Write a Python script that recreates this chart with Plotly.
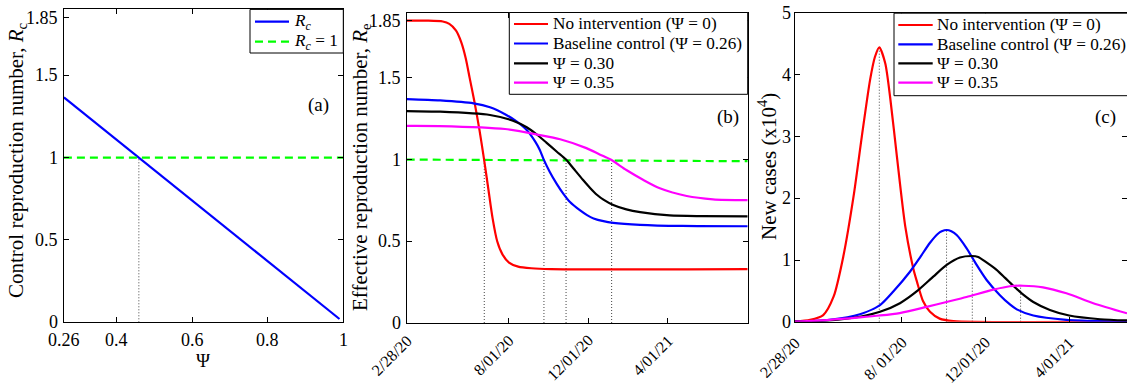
import pandas as pd
import plotly.graph_objects as go

# ---------------- data ----------------
START = pd.Timestamp("2020-02-28")

# panel (a)
psi_line = [0.26, 0.99]
rc_line = [1.366, 0.02]
psi_cross = 0.4585
a_xticks = [0.26, 0.4, 0.6, 0.8, 1.0]
a_xtext = ["0.26", "0.4", "0.6", "0.8", "1"]
r_ticks = [0, 0.5, 1, 1.5, 1.85]
r_text = ["0", "0.5", "1", "1.5", "1.85"]
c_yticks = [0, 1, 2, 3, 4, 5]
c_ytext = ["0", "1", "2", "3", "4", "5"]

# panel (b): effective reproduction number (days since 2/28/20)
b_red_d = [0, 30, 55, 65, 75, 83, 90, 96, 103, 111, 118, 124.5, 131, 138, 146, 156, 170, 190, 220, 520]
b_red_v = [1.85, 1.85, 1.845, 1.83, 1.79, 1.72, 1.62, 1.50, 1.36, 1.18, 1.0, 0.82, 0.64, 0.50, 0.42, 0.37, 0.345, 0.335, 0.33, 0.33]
b_blue_d = [0, 51, 102, 127, 152, 168, 183, 196, 203, 209, 218, 229, 239, 249, 264, 275, 285, 300, 315, 356, 420, 520]
b_blue_v = [1.37, 1.362, 1.344, 1.32, 1.273, 1.232, 1.181, 1.11, 1.059, 1.0, 0.926, 0.85, 0.79, 0.74, 0.69, 0.66, 0.64, 0.623, 0.613, 0.601, 0.594, 0.592]
b_black_d = [0, 51, 127, 162, 183, 198, 213, 229, 243, 254, 269, 280, 290, 300, 315, 335, 356, 401, 450, 520]
b_black_v = [1.297, 1.293, 1.273, 1.238, 1.198, 1.155, 1.104, 1.048, 1.0, 0.947, 0.875, 0.825, 0.785, 0.755, 0.722, 0.695, 0.678, 0.658, 0.654, 0.653]
b_mag_d = [0, 50, 150, 203, 234, 274, 295, 311, 335, 361, 386, 427, 467, 520]
b_mag_v = [1.206, 1.205, 1.187, 1.15, 1.124, 1.07, 1.03, 1.0, 0.936, 0.875, 0.824, 0.777, 0.757, 0.752]
b_thr_d = [0, 520]
b_thr_v = [1.0, 0.99]
b_cross_d = [118.3, 209.3, 243, 312.5]

# panel (c): new cases (x10^4)
c_red_d = [0, 22, 41, 56, 70, 85, 97, 109, 116, 122.4, 131, 138, 148, 160, 172, 177, 186, 196, 210, 230, 482]
c_red_v = [0.005, 0.03, 0.108, 0.405, 1.05, 2.03, 3.0, 3.92, 4.29, 4.447, 4.19, 3.65, 2.67, 1.55, 0.85, 0.65, 0.33, 0.16, 0.05, 0.01, 0.0]
c_blue_d = [0, 50, 94.3, 123.4, 142.7, 166.9, 181.4, 196, 208, 213, 220.2, 227, 234.7, 249.2, 263.7, 278.2, 297.5, 312, 322, 346, 394, 440, 482]
c_blue_v = [0.0, 0.03, 0.12, 0.27, 0.49, 0.81, 1.04, 1.28, 1.43, 1.465, 1.486, 1.465, 1.405, 1.19, 0.92, 0.676, 0.43, 0.28, 0.2, 0.1, 0.03, 0.01, 0.005]
c_black_d = [0, 50, 94.3, 123.4, 152.4, 176.6, 200.7, 220.2, 239.5, 256.4, 266, 278, 292.7, 305, 318, 330, 346, 370, 398, 443, 482]
c_black_v = [0.0, 0.02, 0.08, 0.16, 0.30, 0.49, 0.73, 0.92, 1.04, 1.065, 1.05, 0.96, 0.84, 0.71, 0.57, 0.45, 0.32, 0.19, 0.1, 0.04, 0.02]
c_mag_d = [0, 50, 94, 123, 152, 191, 220, 249, 288, 312, 331, 360, 394, 433, 482]
c_mag_v = [0.0, 0.03, 0.07, 0.1, 0.14, 0.24, 0.32, 0.40, 0.52, 0.575, 0.583, 0.557, 0.46, 0.30, 0.136]
c_peak_d = [122.4, 220, 257.4, 327.5]
c_peak_v = [4.447, 1.486, 1.065, 0.583]

date_ticks = ["2020-02-28", "2020-08-01", "2020-12-01", "2021-04-01"]
b_ticktext = ["2/28/20", "8/01/20", "12/01/20", "4/01/21"]
c_ticktext = ["2/28/20", "8/ 01/20", "12/01/20", "4/01/21"]

names = ["No intervention (Ψ = 0)", "Baseline control (Ψ = 0.26)", "Ψ = 0.30", "Ψ = 0.35"]
colors = ["#ff0000", "#0000ff", "#000000", "#ff00ff"]
a_names = ["<i>R<sub>c</sub></i>", "<i>R<sub>c</sub></i> = 1"]


def to_dates(days):
    return [START + pd.Timedelta(days=float(d)) for d in days]


W, H = 1127, 389
FONT = "Liberation Serif"
GREEN = "#00ff00"
DASH = "8px,5px"
SMOOTH = 0.7


def px(x):
    return x / W


def py(y):
    return 1 - y / H


def xd(a, b):
    return [px(a), px(b)]


def yd(top, bottom):
    return [py(bottom), py(top)]


fig = go.Figure()
DOT = dict(color="#444444", width=1, dash="1px,2px")

# ---- panel (a)
fig.add_trace(go.Scatter(x=[psi_cross, psi_cross], y=[0, 1], mode="lines",
                         line=DOT, showlegend=False, xaxis="x", yaxis="y"))
fig.add_trace(go.Scatter(x=psi_line, y=rc_line, mode="lines", line=dict(color="#0000ff", width=2.2),
                         name=a_names[0], showlegend=False, xaxis="x", yaxis="y"))
fig.add_trace(go.Scatter(x=[0.26, 1.0], y=[1.0, 1.0], mode="lines",
                         line=dict(color=GREEN, width=2.2, dash=DASH),
                         name=a_names[1], showlegend=False, xaxis="x", yaxis="y"))

# ---- panel (b)
for d in b_cross_d:
    fig.add_trace(go.Scatter(x=to_dates([d, d]), y=[0, 1], mode="lines",
                             line=DOT, showlegend=False, xaxis="x2", yaxis="y2"))
fig.add_trace(go.Scatter(x=to_dates(b_thr_d), y=b_thr_v, mode="lines",
                         line=dict(color=GREEN, width=2.2, dash=DASH), showlegend=False,
                         xaxis="x2", yaxis="y2"))
b_series = [(b_red_d, b_red_v), (b_blue_d, b_blue_v), (b_black_d, b_black_v), (b_mag_d, b_mag_v)]
for (d, v), n, c in zip(b_series, names, colors):
    fig.add_trace(go.Scatter(x=to_dates(d), y=v, mode="lines",
                             line=dict(color=c, width=2.2, shape="spline", smoothing=SMOOTH),
                             name=n, showlegend=False, xaxis="x2", yaxis="y2"))

# ---- panel (c)
for d, v in zip(c_peak_d, c_peak_v):
    fig.add_trace(go.Scatter(x=to_dates([d, d]), y=[0, v], mode="lines",
                             line=DOT, showlegend=False, xaxis="x3", yaxis="y3"))
c_series = [(c_red_d, c_red_v), (c_blue_d, c_blue_v), (c_black_d, c_black_v), (c_mag_d, c_mag_v)]
for (d, v), n, c in zip(c_series, names, colors):
    fig.add_trace(go.Scatter(x=to_dates(d), y=v, mode="lines",
                             line=dict(color=c, width=2.2, shape="spline", smoothing=SMOOTH),
                             name=n, showlegend=False, xaxis="x3", yaxis="y3"))

axis_common = dict(showline=True, linecolor="black", linewidth=1, mirror="ticks", ticks="inside",
                   ticklen=5, tickcolor="black", showgrid=False, zeroline=False, automargin=False,
                   showticklabels=False)

fig.update_layout(
    width=W, height=H, margin=dict(l=0, r=0, t=0, b=0, pad=0, autoexpand=False),
    paper_bgcolor="white", plot_bgcolor="white", showlegend=False,
    font=dict(family=FONT, color="black"),
    xaxis=dict(domain=xd(63.9, 343.3), anchor="y", range=[0.26, 1.0], tickvals=a_xticks, **axis_common),
    yaxis=dict(domain=yd(9.4, 322.3), anchor="x", range=[0, 1.9], tickvals=r_ticks, **axis_common),
    xaxis2=dict(domain=xd(406.7, 747.7), anchor="y2", type="date",
                range=[START, START + pd.Timedelta(days=520)], tickvals=date_ticks, **axis_common),
    yaxis2=dict(domain=yd(12.5, 323), anchor="x2", range=[0, 1.9], tickvals=r_ticks, **axis_common),
    xaxis3=dict(domain=xd(795, 1127), anchor="y3", type="date",
                range=[START, START + pd.Timedelta(days=482)], tickvals=date_ticks, **axis_common),
    yaxis3=dict(domain=yd(13.2, 321.7), anchor="x3", range=[0, 5], tickvals=c_yticks, **axis_common),
)

tick_font = dict(family=FONT, size=18, color="black")
date_font = dict(family=FONT, size=16, color="black")

# tick labels (serif), placed through the axes' own scales
for v, t in zip(r_ticks, r_text):
    fig.add_annotation(text=t, xref="paper", yref="y", x=px(60), y=v, xanchor="right", yanchor="middle",
                       showarrow=False, font=tick_font)
    fig.add_annotation(text=t, xref="paper", yref="y2", x=px(403), y=v, xanchor="right", yanchor="middle",
                       showarrow=False, font=tick_font)
for v, t in zip(c_yticks, c_ytext):
    fig.add_annotation(text=t, xref="paper", yref="y3", x=px(793), y=v, xanchor="right", yanchor="middle",
                       showarrow=False, font=tick_font)
for v, t in zip(a_xticks, a_xtext):
    fig.add_annotation(text=t, xref="x", yref="paper", x=v, y=py(340), xanchor="center", yanchor="middle",
                       showarrow=False, font=tick_font)
for v, t in zip(date_ticks, b_ticktext):
    fig.add_annotation(text=t, xref="x2", yref="paper", x=v, y=py(329), xanchor="right", yanchor="top",
                       xshift=11, textangle=-45, showarrow=False, font=date_font)
for v, t in zip(date_ticks, c_ticktext):
    fig.add_annotation(text=t, xref="x3", yref="paper", x=v, y=py(331), xanchor="right", yanchor="top",
                       xshift=11, textangle=-45, showarrow=False, font=date_font)

ann = dict(showarrow=False, xref="paper", yref="paper", xanchor="center", yanchor="middle")
lab = dict(family=FONT, size=19, color="black")
ttl = dict(family=FONT, size=21, color="black")
fig.add_annotation(text="(a)", x=px(318), y=py(105), font=lab, **ann)
fig.add_annotation(text="(b)", x=px(728), y=py(117), font=lab, **ann)
fig.add_annotation(text="(c)", x=px(1105), y=py(117), font=lab, **ann)
fig.add_annotation(text="Control reproduction number, <i>R</i><sub>c</sub>", x=px(17), y=py(160),
                   textangle=-90, font=ttl, **ann)
fig.add_annotation(text="Effective reproduction number, <i>R</i><sub>e</sub>", x=px(361), y=py(167),
                   textangle=-90, font=ttl, **ann)
fig.add_annotation(text="New cases (x10<sup>4</sup>)", x=px(767), y=py(167), textangle=-90,
                   font=dict(family=FONT, size=21, color="black"), **ann)
fig.add_annotation(text="Ψ", x=px(203), y=py(360), font=lab, **ann)


# ---- legends (box, line samples, labels)
def legend_box(x0, x1, y0, y1, lx0, lx1, tx, rows, labels, cols, dashes):
    fig.add_shape(type="rect", xref="paper", yref="paper", x0=px(x0), x1=px(x1), y0=py(y1), y1=py(y0),
                  line=dict(color="black", width=1), fillcolor="white", layer="above")
    for r, t, c, dsh in zip(rows, labels, cols, dashes):
        fig.add_shape(type="line", xref="paper", yref="paper", x0=px(lx0), x1=px(lx1), y0=py(r), y1=py(r),
                      line=dict(color=c, width=2.2, dash=dsh), layer="above")
        fig.add_annotation(text=t, x=px(tx), y=py(r), xanchor="left", yanchor="middle", showarrow=False,
                           xref="paper", yref="paper", font=dict(family=FONT, size=17.2, color="black"))


legend_box(250, 343.3, 9.4, 53, 255, 289, 292, [21.7, 41.7], a_names, ["#0000ff", GREEN], ["solid", DASH])
legend_box(509.3, 747.7, 12.5, 94.3, 514, 548, 551, [24, 43.5, 63.3, 82.7], names, colors, ["solid"] * 4)
legend_box(894, 1130, 13.2, 95.7, 898.3, 932.7, 935, [25, 44.3, 63.3, 82.7], names, colors, ["solid"] * 4)

fig.write_html("out.html", config={"displayModeBar": False},
               post_script="document.body.style.margin='0';document.body.style.overflow='hidden';")
